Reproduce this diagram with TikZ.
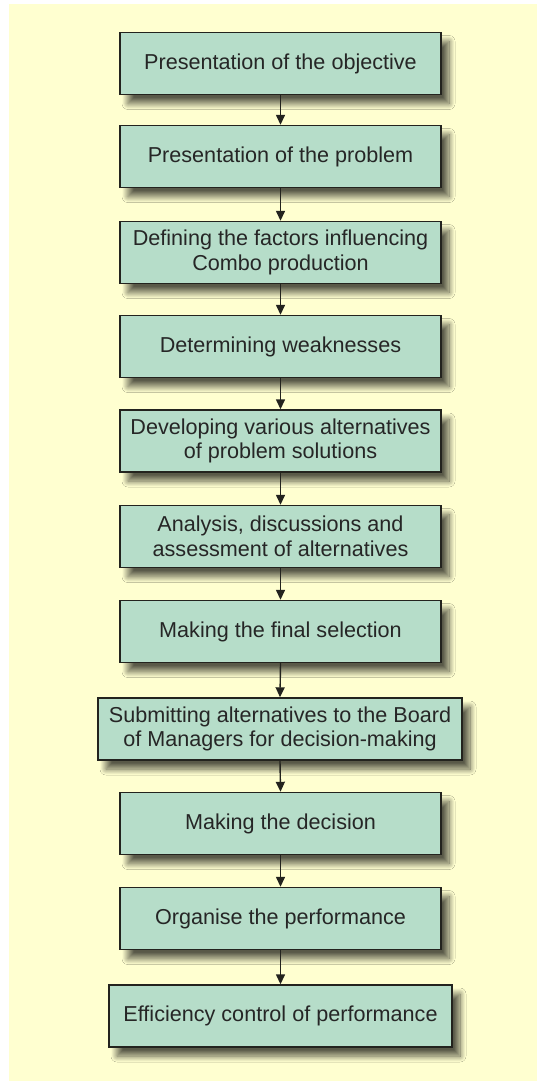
\documentclass[tikz,border=0pt]{standalone}
\usepackage{fontspec}
\setmainfont{Liberation Sans}
\usetikzlibrary{arrows.meta,shadows.blur}
\definecolor{bgyellow}{RGB}{255,255,208}
\definecolor{boxgreen}{RGB}{182,221,201}
\definecolor{edgecol}{RGB}{35,35,30}
\tikzset{
  stepbox/.style={draw=edgecol, line width=1.4pt, fill=boxgreen,
    minimum height=62pt, inner sep=0pt, align=center,
    font=\fontsize{21.6}{24.5}\selectfont, text=black!85,
    blur shadow={shadow xshift=8pt, shadow yshift=-9pt, shadow blur radius=6pt,
      shadow blur steps=12, shadow opacity=65}},
  flow/.style={draw=edgecol, line width=1.4pt, -{Triangle[length=10pt,width=9pt]}}
}
\begin{document}
\begin{tikzpicture}[x=1pt,y=-1pt]
\useasboundingbox (0,0) rectangle (537,1081);
\fill[white] (0,0) rectangle (537,1081);
\fill[bgyellow] (9,4) rectangle (537,1081);
\node[stepbox, minimum width=321pt] (n1) at (280.5,63.5) {Presentation of the objective};
\node[stepbox, minimum width=321pt] (n2) at (280.5,156.5) {Presentation of the problem};
\node[stepbox, minimum width=321pt] (n3) at (280.5,252.5) {Defining the factors influencing\\Combo production};
\node[stepbox, minimum width=321pt] (n4) at (280.5,346.5) {Determining weaknesses};
\node[stepbox, minimum width=321pt] (n5) at (280.5,441) {Developing various alternatives\\of problem solutions};
\node[stepbox, minimum width=321pt] (n6) at (280.5,536.5) {Analysis, discussions and\\assessment of alternatives};
\node[stepbox, minimum width=321pt] (n7) at (280.5,631.5) {Making the final selection};
\node[stepbox, minimum width=364pt] (n8) at (280,729) {Submitting alternatives to the Board\\of Managers for decision-making};
\node[stepbox, minimum width=321pt] (n9) at (280.5,823.5) {Making the decision};
\node[stepbox, minimum width=321pt] (n10) at (280.5,918.5) {Organise the performance};
\node[stepbox, minimum width=343pt] (n11) at (280.5,1016) {Efficiency control of performance};
\foreach \a/\b in {n1/n2,n2/n3,n3/n4,n4/n5,n5/n6,n6/n7,n7/n8,n8/n9,n9/n10,n10/n11}
  \draw[flow] (\a.south) -- (\b.north);
\end{tikzpicture}
\end{document}
